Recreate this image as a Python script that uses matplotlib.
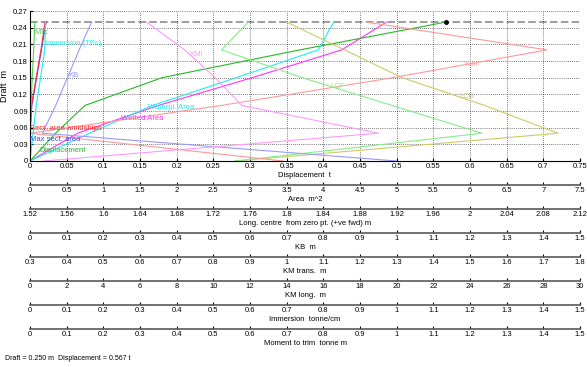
import numpy as np
import matplotlib
matplotlib.use('Agg')
import matplotlib.pyplot as plt

plt.rcParams['font.family'] = ['Liberation Sans Narrow', 'Liberation Sans', 'DejaVu Sans']

# draft stations (m)
drafts = [0.0, 0.05, 0.10, 0.15, 0.20, 0.25]

# hydrostatic values at each draft, in the units of their own scale
displacement = [0.0, 0.035, 0.075, 0.18, 0.368, 0.567]
waterpl_area = [0.0, 0.81, 1.67, 2.81, 3.93, 4.14]
wetted_area = [0.0, 0.65, 1.75, 3.03, 4.25, 4.86]
max_sect_area = [0.0, 0.0, 0.025, 0.09, 0.155, 0.22]
sect_area_mid = [0.0, 0.0, 0.02, 0.085, 0.15, 0.205]
lcb = [1.744, 2.096, 2.016, 1.926, 1.863, 1.80]
lcf = [1.744, 2.013, 1.915, 1.817, 1.729, 1.758]
kb = [1.0, 0.034, 0.07, 0.102, 0.134, 0.168]
km_trans = [0.99, 0.3, 0.822, 1.29, 1.71, 1.218]
km_long = [0.72, 19.0, 11.56, 10.1, 8.44, 6.36]
tpc = [0.0, 0.0083, 0.0171, 0.0288, 0.0403, 0.0424]
mtc = [0.0, 0.001, 0.003, 0.006, 0.010, 0.013]

draft_now = 0.25

# secondary scales: title, low, high, step
scales = [
    ('Area  m^2', 0, 7.5, 0.5),
    ('Long. centre  from zero pt. (+ve fwd) m', 1.52, 2.12, 0.04),
    ('KB  m', 0, 1.5, 0.1),
    ('KM trans.  m', 0.3, 1.8, 0.1),
    ('KM long.  m', 0, 30, 2),
    ('Immersion  tonne/cm', 0, 1.5, 0.1),
    ('Moment to trim  tonne m', 0, 1.5, 0.1),
]

XMAX = 0.75
def to_main(vals, lo, hi):
    return (np.array(vals) - lo) / (hi - lo) * XMAX

# curve name, values, scale index (-1 = main), colour
curves = [
    ('Displacement', displacement, -1, '#22bb22'),
    ('Max sect. area', max_sect_area, 0, '#4444ff'),
    ('Sect. area amidships', sect_area_mid, 0, '#ff3333'),
    ('Wetted Area', wetted_area, 0, '#ff33ff'),
    ('Waterpl. Area', waterpl_area, 0, '#22eeee'),
    ('LCB', lcb, 1, '#cccc66'),
    ('LCF', lcf, 1, '#88ee88'),
    ('KB', kb, 2, '#9999ff'),
    ('KMt', km_trans, 3, '#ff9999'),
    ('KMl', km_long, 4, '#ff99ff'),
    ('Immersion (TPc)', tpc, 5, '#22eeee'),
    ('MTc', mtc, 6, '#55cc55'),
]

W, H = 587, 367
fig = plt.figure(figsize=(W / 100, H / 100), dpi=100)
FS = 5.5

ax = fig.add_axes([30 / W, 1 - 161 / H, 550 / W, 150 / H])
ax.set_xlim(0, XMAX)
ax.set_ylim(0, 0.27)
ax.set_xticks(np.arange(0, 0.7501, 0.05))
ax.set_yticks(np.arange(0, 0.2701, 0.03))
ax.set_xticklabels([f'{round(v, 4):g}' for v in np.arange(0, 0.7501, 0.05)])
ax.set_yticklabels([f'{round(v, 4):g}' for v in np.arange(0, 0.2701, 0.03)])
ax.tick_params(direction='in', length=2.5, labelsize=FS, pad=1.5)
ax.grid(True, color='black', ls=(0, (1, 2)), lw=0.5)
ax.spines['top'].set_visible(False)
ax.spines['right'].set_visible(False)
ax.set_xlabel('Displacement  t', fontsize=FS, labelpad=1.5)
ax.set_ylabel('Draft  m', fontsize=FS + 1, labelpad=3)

ax.axhline(draft_now, color='0.55', ls=(0, (4.5, 2)), lw=1.2, zorder=1)

n = len(curves)
for k, (name, vals, si, col) in enumerate(curves):
    if si < 0:
        xs = np.array(vals, dtype=float)
    else:
        xs = to_main(vals, scales[si][1], scales[si][2])
    ax.plot(xs, drafts, color=col, lw=0.8, zorder=2)
    dl = (k + 1) * draft_now / (n + 1)
    ax.text(np.interp(dl, drafts, xs), dl, name, color=col, fontsize=FS,
            va='center', ha='left', zorder=3)

ax.plot([displacement[-1]], [draft_now], 'o', color='black', ms=2.5, zorder=4)

# secondary axes below
for i, (title, lo, hi, step) in enumerate(scales):
    y_px = 185 + 24 * i
    sa = fig.add_axes([30 / W, 1 - y_px / H, 550 / W, 0.0005])
    sa.set_xlim(lo, hi)
    ticks = np.arange(lo, hi + step / 2, step)
    sa.set_xticks(ticks)
    sa.set_xticklabels([f'{round(v, 4):g}' for v in ticks])
    sa.set_yticks([])
    for s in ['top', 'left', 'right']:
        sa.spines[s].set_visible(False)
    sa.spines['bottom'].set_color('0.35')
    sa.spines['bottom'].set_linewidth(1.2)
    sa.tick_params(direction='in', length=2.5, labelsize=FS, pad=1.5)
    sa.set_xlabel(title, fontsize=FS, labelpad=1.5)
    sa.patch.set_visible(False)

fig.text(5 / W, 1 - 359 / H, f'Draft = {draft_now:.3f} m', fontsize=5, va='center')
fig.text(58 / W, 1 - 359 / H, f'Displacement = {displacement[-1]:.3f} t',
         fontsize=5, va='center')

fig.savefig('out.png', dpi=100)
